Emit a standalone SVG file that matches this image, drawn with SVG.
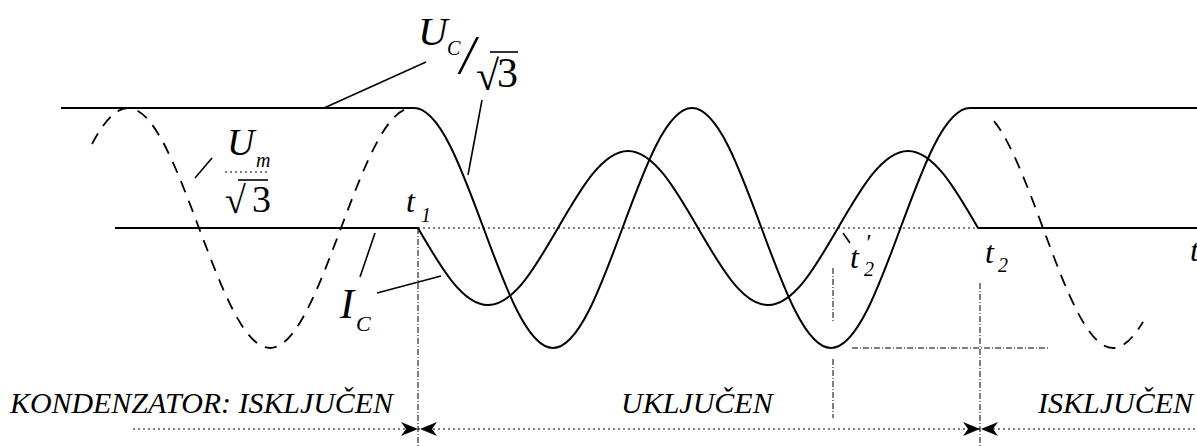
<svg xmlns="http://www.w3.org/2000/svg" width="1197" height="446" viewBox="0 0 1197 446">
<style>
.curve{fill:none;stroke:#000;stroke-width:2}
.dash{fill:none;stroke:#000;stroke-width:1.8;stroke-dasharray:12 9}
.dot{fill:none;stroke:#000;stroke-width:1;stroke-dasharray:2 3}
.dd{fill:none;stroke:#000;stroke-width:1;stroke-dasharray:6 2 1 2}
.lead{fill:none;stroke:#000;stroke-width:1.6}
.up{font-style:normal}
</style>
<defs>
<path id="ah" d="M0,0 L-17,-7 L-12,0 L-17,7 Z" fill="#000"/>
</defs>
<rect width="1197" height="446" fill="#fff"/>
<g id="axes">
<path class="dot" d="M418,228 H978"/>
<path class="dd" d="M418,228 V446"/>
<path class="dd" d="M833,268 V323 M833,359 V418"/>
<path class="dd" d="M980,283 V446"/>
<path class="dd" d="M852,348 H1049"/>
<path class="dot" d="M133,429 H1197"/>
<use href="#ah" transform="translate(418,429)"/>
<use href="#ah" transform="translate(420,429) rotate(180)"/>
<use href="#ah" transform="translate(980,429)"/>
<use href="#ah" transform="translate(981,429) rotate(180)"/>
</g>
<g id="supply-voltage">
<path class="dash" d="M92,144 C104,121.2 116,108 128,108 C153.69,108 175.85,166.52 199,228 C222.15,289.48 244.31,348 270,348 C295.69,348 317.85,289.48 341,228 C364.15,166.52 386.31,108 412,108"/>
<path class="dash" d="M994,121.1 C1010.33,141.06 1026.67,184.02 1043,228 C1065.83,289.48 1087.67,348 1113,348 C1123,348 1133,338.7 1143,321.9"/>
</g>
<g id="capacitor-voltage">
<path class="curve" d="M61,108 H414 C439.15,108 460.84,166.52 483.5,228 C506.16,289.48 527.85,348 553,348 C578.15,348 599.84,289.48 622.5,228 C645.16,166.52 666.85,108 692,108 C717.15,108 738.84,166.52 761.5,228 C784.16,289.48 805.85,348 831,348 C856.15,348 877.84,289.48 900.5,228 C923.16,166.52 944.85,108 970,108 H1197"/>
</g>
<g id="capacitor-current">
<path class="curve" d="M115,228 H418 C440.83,267.45 462.67,305 488,305 C513.33,305 535.17,267.45 558,228 C580.83,188.55 602.67,151 628,151 C653.33,151 675.17,188.55 698,228 C720.83,267.45 742.67,305 768,305 C793.33,305 815.17,267.45 838,228 C860.83,188.55 882.67,151 908,151 C933.33,151 955.17,188.55 978,228 H1197"/>
</g>
<g id="leaders">
<path class="lead" d="M324,108 L426,62"/>
<path class="lead" d="M482,100 L468,175"/>
<path class="lead" d="M195,178 L212,158"/>
<path class="lead" d="M375,233 L360,277"/>
<path class="lead" d="M377,293 L441,276"/>
<path class="lead" d="M843,233 L850,243"/>
</g>
<g font-family="'Liberation Serif', 'Times New Roman', serif" font-style="italic" fill="#000">
<g id="label-uc">
<text x="418" y="45" font-size="41">U<tspan x="447" y="55" font-size="20">C</tspan><tspan x="460" y="73" font-size="54">/</tspan><tspan class="up" x="476" y="90" font-size="42">√</tspan><tspan class="up" x="497" y="87" font-size="42">3</tspan></text>
<path class="lead" d="M490,52 H518"/>
</g>
<g id="label-um">
<text x="227" y="155" font-size="38">U<tspan x="256" y="167" font-size="20">m</tspan><tspan class="up" x="225" y="213" font-size="38">√</tspan><tspan class="up" x="252" y="212" font-size="38">3</tspan></text>
<path class="dot" d="M225,172 H268"/>
<path class="lead" d="M238,180 H268"/>
</g>
<g id="label-ic">
<text x="340" y="318" font-size="42">I<tspan x="356" y="331" font-size="22">C</tspan></text>
</g>
<g id="label-times">
<text x="406" y="212" font-size="32">t<tspan x="421" y="222" font-size="20">1</tspan></text>
<text x="850" y="268" font-size="32">t<tspan x="865" y="250" font-size="24">′</tspan><tspan x="864" y="276" font-size="20">2</tspan></text>
<text x="985" y="263" font-size="32">t<tspan x="998" y="272" font-size="20">2</tspan></text>
<text x="1190" y="261" font-size="32">t</text>
</g>
<g id="states">
<text x="10" y="413" font-size="30" textLength="383" lengthAdjust="spacingAndGlyphs">KONDENZATOR: ISKLJUČEN</text>
<text x="621" y="413" font-size="30">UKLJUČEN</text>
<text x="1038" y="413" font-size="30">ISKLJUČEN</text>
</g>
</g>
</svg>
